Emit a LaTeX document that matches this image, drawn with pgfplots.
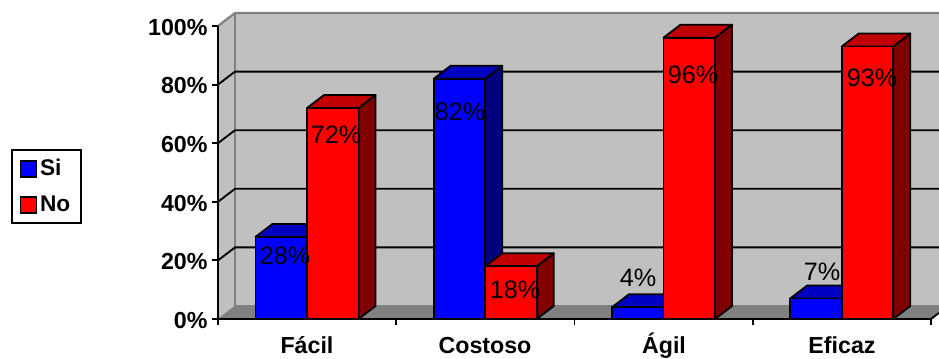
\documentclass[border=0pt]{standalone}
\usepackage{pgfplots}
\pgfplotsset{compat=1.18}
\usepackage{fontspec}
\setmainfont{Liberation Sans}
\definecolor{wall}{HTML}{C0C0C0}
\definecolor{floorgray}{HTML}{808080}
\definecolor{bluefront}{HTML}{0000FF}
\definecolor{bluetop}{HTML}{0000C0}
\definecolor{blueside}{HTML}{000080}
\definecolor{redfront}{HTML}{FF0000}
\definecolor{redtop}{HTML}{C00000}
\definecolor{redside}{HTML}{800000}
% one unit of x is 0.75pt; the depth of the 3D effect is dx along x and dy along y (in percent)
\def\dx{17}
\def\dy{4.44}
\def\bw{51.5}
% box with left edge #1, height #2 (percent), colour prefix #3
\newcommand{\boxbar}[3]{%
  \pgfmathsetmacro\xa{#1}%
  \pgfmathsetmacro\xb{#1+\bw}%
  \pgfmathsetmacro\xc{#1+\bw+\dx}%
  \pgfmathsetmacro\xd{#1+\dx}%
  \pgfmathsetmacro\yt{#2}%
  \pgfmathsetmacro\yb{#2+\dy}%
  \edef\temp{%
    \noexpand\addplot[forget plot,draw=black,line width=1.4pt,line join=round,fill=#3side]
      coordinates {(\xb,0) (\xc,\dy) (\xc,\yb) (\xb,\yt)} -- cycle;
    \noexpand\addplot[forget plot,draw=black,line width=1.4pt,line join=round,fill=#3top]
      coordinates {(\xa,\yt) (\xb,\yt) (\xc,\yb) (\xd,\yb)} -- cycle;
    \noexpand\addplot[forget plot,draw=black,line width=1.4pt,line join=round,fill=#3front]
      coordinates {(\xa,0) (\xb,0) (\xb,\yt) (\xa,\yt)} -- cycle;
  }\temp
}
\pgfplotstableread{
x   y     v
285 21.5  28
336 62.8  72
460 70.7  82
515 9.9   18
638 14    4
693 83.2  96
822 16.2  7
872 82.2  93
}\valuelabels
\begin{document}
\begin{tikzpicture}
\path[use as bounding box] (0,0) rectangle (704.25pt,268.5pt);
\begin{axis}[
  at={(163.5pt,29.25pt)}, anchor=south west,
  scale only axis, width=534.75pt, height=219.75pt,
  xmin=218, xmax=931, ymin=0, ymax=100,
  clip=false, axis on top,
  axis lines=left,
  axis line style={-, line width=1.4pt, black},
  every tick/.style={black, line width=1.4pt},
  tick align=outside,
  major tick length=4.5pt,
  ytick={0,20,40,60,80,100},
  yticklabel={\pgfmathprintnumber{\tick}\%},
  /pgf/number format/assume math mode=true,
  xtick={218,396.25,574.5,752.75,931},
  xticklabels={},
  extra x ticks={307,485,664,842},
  extra x tick labels={Fácil,Costoso,Ágil,Eficaz},
  extra x tick style={major tick length=0pt, tick style={draw=none}},
  tick label style={font=\fontsize{17.4}{20}\selectfont\bfseries},
  yticklabel style={inner sep=0pt, xshift=-3.2pt, yshift=-1pt},
  xticklabel style={inner sep=0pt, text height=13pt, text depth=4pt, yshift=-12.5pt},
  legend style={
    at={(-0.291,0.580)}, anchor=north west,
    draw=black, line width=1.6pt, fill=white,
    font=\fontsize{17}{20}\selectfont\bfseries,
    row sep=9.5pt, inner xsep=6pt, inner ysep=5pt,
    cells={anchor=west},
    /tikz/every even column/.append style={column sep=3pt},
  },
  legend image code/.code={
    \draw[#1, draw=black, line width=1.4pt] (0pt,-6pt) rectangle (12pt,6pt);
  },
]
% walls and floor
\addplot[forget plot, draw=none, fill=wall] coordinates {(235,4.44) (939,4.44) (939,104.44) (235,104.44)} -- cycle;
\addplot[forget plot, draw=none, fill=wall] coordinates {(218,0) (235,4.44) (235,104.44) (218,100)} -- cycle;
\addplot[forget plot, draw=floorgray, fill=floorgray] coordinates {(218,0) (931,0) (939,2.09) (939,4.44) (235,4.44)} -- cycle;
\addplot[forget plot, draw=floorgray, line width=1.6pt] coordinates {(218,100) (235,104.44) (939,104.44)};
\addplot[forget plot, draw=floorgray, line width=1.6pt] coordinates {(235,104.44) (235,4.44) (939,4.44)};
% gridlines, folded along the side wall
\addplot[forget plot, black, line width=1.4pt] coordinates {(218,20) (235,24.44) (939,24.44)};
\addplot[forget plot, black, line width=1.4pt] coordinates {(218,40) (235,44.44) (939,44.44)};
\addplot[forget plot, black, line width=1.4pt] coordinates {(218,60) (235,64.44) (939,64.44)};
\addplot[forget plot, black, line width=1.4pt] coordinates {(218,80) (235,84.44) (939,84.44)};
\addplot[forget plot, black, line width=1.4pt] coordinates {(931,0) (939,2.09)};
% bars
\boxbar{255.5}{28}{blue}
\boxbar{307}{72}{red}
\boxbar{433.75}{82}{blue}
\boxbar{485.25}{18}{red}
\boxbar{612}{4}{blue}
\boxbar{663.5}{96}{red}
\boxbar{790.25}{7}{blue}
\boxbar{841.75}{93}{red}
% value labels
\addplot[forget plot, draw=none, mark=none, point meta=explicit,
  nodes near coords={\pgfmathprintnumber{\pgfplotspointmeta}\%},
  every node near coord/.style={anchor=center, inner sep=0pt, font=\fontsize{18.9}{22}\selectfont, text=black}]
  table[x=x, y=y, meta=v] {\valuelabels};
\addlegendimage{fill=bluefront}
\addlegendentry{Si}
\addlegendimage{fill=redfront}
\addlegendentry{No}
\end{axis}
\end{tikzpicture}
\end{document}
